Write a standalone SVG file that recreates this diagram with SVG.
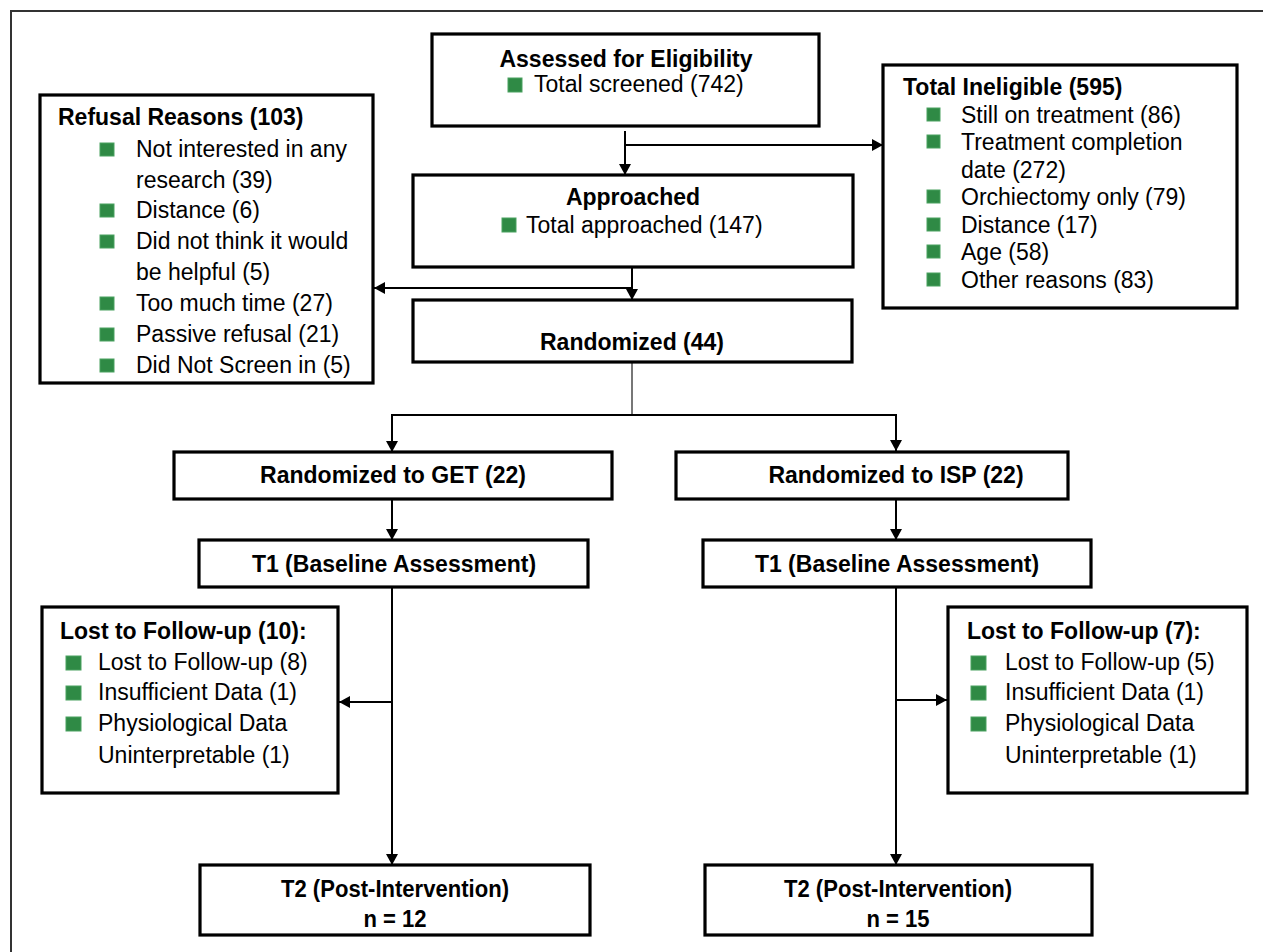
<svg xmlns="http://www.w3.org/2000/svg" width="1263" height="952" viewBox="0 0 1263 952">
<defs>
<style>
.box{fill:#fff;stroke:#000;stroke-width:3.2}
.t{font-family:"Liberation Sans",Arial,sans-serif;font-size:23px;fill:#000}
.b{font-weight:bold}
.m{text-anchor:middle}
.bul{fill:#2f8a45;stroke:#4aa160;stroke-width:1}
.c{fill:none;stroke:#000;stroke-width:2}
.cg{fill:none;stroke:#777;stroke-width:2}
.n{font-family:"Liberation Sans",Arial,sans-serif;font-size:24px;font-weight:bold;text-anchor:middle;fill:#000}
</style>
<marker id="ah" viewBox="0 0 11 12" refX="11" refY="6" markerWidth="11" markerHeight="12" markerUnits="userSpaceOnUse" orient="auto">
<path d="M0,0 L11,6 L0,12 z" fill="#000"/>
</marker>
</defs>
<rect width="1263" height="952" fill="#fff"/>
<rect x="11" y="11" width="1280" height="980" fill="none" stroke="#333" stroke-width="2"/>

<g id="connectors">
<path class="c" d="M625,131 V175" marker-end="url(#ah)"/>
<path class="c" d="M625,145 H883" marker-end="url(#ah)"/>
<path class="c" d="M632,267 V300" marker-end="url(#ah)"/>
<path class="c" d="M632,288 H374" marker-end="url(#ah)"/>
<path class="cg" d="M632,362 V415"/>
<path class="c" d="M392,415 H896"/>
<path class="c" d="M392,414 V452" marker-end="url(#ah)"/>
<path class="c" d="M896,414 V451" marker-end="url(#ah)"/>
<path class="c" d="M392,499 V540" marker-end="url(#ah)"/>
<path class="c" d="M896,499 V540" marker-end="url(#ah)"/>
<path class="c" d="M392,587 V865" marker-end="url(#ah)"/>
<path class="c" d="M392,702 H339" marker-end="url(#ah)"/>
<path class="c" d="M896,587 V865" marker-end="url(#ah)"/>
<path class="c" d="M896,700 H947" marker-end="url(#ah)"/>
</g>

<g id="assessed">
<rect class="box" x="432" y="34" width="387" height="92"/>
<text class="t b m" x="626" y="67">Assessed for Eligibility</text>
<rect class="bul" x="508" y="78" width="14" height="14"/>
<text class="t" x="534" y="92">Total screened (742)</text>
</g>

<g id="ineligible">
<rect class="box" x="883" y="65" width="354" height="243"/>
<text class="t b" x="903" y="95">Total Ineligible (595)</text>
<rect class="bul" x="927" y="108" width="13" height="13"/>
<text class="t" x="961" y="123">Still on treatment (86)</text>
<rect class="bul" x="927" y="135" width="13" height="13"/>
<text class="t" x="961" y="150">Treatment completion</text>
<text class="t" x="961" y="177.5">date (272)</text>
<rect class="bul" x="927" y="190" width="13" height="13"/>
<text class="t" x="961" y="205">Orchiectomy only (79)</text>
<rect class="bul" x="927" y="218" width="13" height="13"/>
<text class="t" x="961" y="233">Distance (17)</text>
<rect class="bul" x="927" y="245" width="13" height="13"/>
<text class="t" x="961" y="260">Age (58)</text>
<rect class="bul" x="927" y="273" width="13" height="13"/>
<text class="t" x="961" y="288">Other reasons (83)</text>
</g>

<g id="approached">
<rect class="box" x="413" y="175" width="440" height="92"/>
<text class="t b m" x="633" y="205">Approached</text>
<rect class="bul" x="502" y="218" width="14" height="14"/>
<text class="t" x="526" y="233">Total approached (147)</text>
</g>

<g id="refusal">
<rect class="box" x="40" y="95" width="333" height="288"/>
<text class="t b" x="58" y="125">Refusal Reasons (103)</text>
<rect class="bul" x="100" y="143" width="14" height="13"/>
<text class="t" x="136" y="157">Not interested in any</text>
<text class="t" x="136" y="187.5">research (39)</text>
<rect class="bul" x="100" y="204" width="14" height="13"/>
<text class="t" x="136" y="218">Distance (6)</text>
<rect class="bul" x="100" y="235" width="14" height="13"/>
<text class="t" x="136" y="249">Did not think it would</text>
<text class="t" x="136" y="280">be helpful (5)</text>
<rect class="bul" x="100" y="297" width="14" height="13"/>
<text class="t" x="136" y="311">Too much time (27)</text>
<rect class="bul" x="100" y="328" width="14" height="13"/>
<text class="t" x="136" y="342">Passive refusal (21)</text>
<rect class="bul" x="100" y="359" width="14" height="13"/>
<text class="t" x="136" y="373">Did Not Screen in (5)</text>
</g>

<g id="randomized">
<rect class="box" x="413" y="300" width="439" height="62"/>
<text class="t b m" x="632" y="350">Randomized (44)</text>
</g>

<g id="get">
<rect class="box" x="174" y="452" width="438" height="47"/>
<text class="t b m" x="393" y="483">Randomized to GET (22)</text>
</g>

<g id="isp">
<rect class="box" x="676" y="452" width="392" height="47"/>
<text class="t b m" x="896" y="483">Randomized to ISP (22)</text>
</g>

<g id="t1-get">
<rect class="box" x="199" y="540" width="389" height="47"/>
<text class="t b m" x="394" y="572">T1 (Baseline Assessment)</text>
</g>

<g id="t1-isp">
<rect class="box" x="703" y="540" width="388" height="47"/>
<text class="t b m" x="897" y="572">T1 (Baseline Assessment)</text>
</g>

<g id="lost-get">
<rect class="box" x="42" y="607" width="296" height="186"/>
<text class="t b" x="60" y="639">Lost to Follow-up (10):</text>
<rect class="bul" x="66" y="656" width="15" height="14"/>
<text class="t" x="98" y="670">Lost to Follow-up (8)</text>
<rect class="bul" x="66" y="686" width="15" height="14"/>
<text class="t" x="98" y="700">Insufficient Data (1)</text>
<rect class="bul" x="66" y="717" width="15" height="14"/>
<text class="t" x="98" y="731">Physiological Data</text>
<text class="t" x="98" y="763">Uninterpretable (1)</text>
</g>

<g id="lost-isp">
<rect class="box" x="948" y="607" width="299" height="186"/>
<text class="t b" x="967" y="639">Lost to Follow-up (7):</text>
<rect class="bul" x="971" y="656" width="15" height="14"/>
<text class="t" x="1005" y="670">Lost to Follow-up (5)</text>
<rect class="bul" x="971" y="686" width="15" height="14"/>
<text class="t" x="1005" y="700">Insufficient Data (1)</text>
<rect class="bul" x="971" y="717" width="15" height="14"/>
<text class="t" x="1005" y="731">Physiological Data</text>
<text class="t" x="1005" y="763">Uninterpretable (1)</text>
</g>

<g id="t2-get">
<rect class="box" x="200" y="865" width="390" height="70"/>
<g transform="translate(395,0) scale(0.92,1)">
<text class="n" x="0" y="897">T2 (Post-Intervention)</text>
<text class="n" x="0" y="927">n = 12</text>
</g>
</g>

<g id="t2-isp">
<rect class="box" x="705" y="865" width="387" height="70"/>
<g transform="translate(898,0) scale(0.92,1)">
<text class="n" x="0" y="897">T2 (Post-Intervention)</text>
<text class="n" x="0" y="927">n = 15</text>
</g>
</g>
</svg>
